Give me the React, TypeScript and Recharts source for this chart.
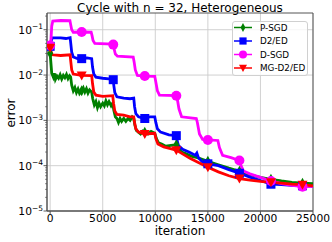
import React from 'react';
import { LineChart, Line, XAxis, YAxis, CartesianGrid, ReferenceArea, Label } from 'recharts';

// [iteration, error]
const pSgd: [number, number][] = [
    [0, 0.03], [60, 0.02], [150, 0.011], [300, 0.009], [400, 0.011], [500, 0.008], [650, 0.0095],
    [800, 0.0085], [950, 0.0102], [1100, 0.0082], [1250, 0.0098], [1400, 0.0087], [1550, 0.0103],
    [1700, 0.0083], [1850, 0.0096], [1950, 0.009], [2050, 0.006], [2200, 0.0045], [2350, 0.0053],
    [2500, 0.0041], [2650, 0.0049], [2800, 0.0039], [3000, 0.0045], [3150, 0.0052], [3300, 0.0042],
    [3450, 0.005], [3600, 0.004], [3750, 0.0047], [3950, 0.0042], [4050, 0.003], [4200, 0.0022],
    [4350, 0.0026], [4500, 0.0019], [4650, 0.0024], [4800, 0.002], [5000, 0.0024], [5150, 0.0021],
    [5300, 0.0027], [5450, 0.0022], [5600, 0.0026], [5800, 0.0021], [5950, 0.0024], [6050, 0.0017],
    [6200, 0.0012], [6350, 0.0011], [6500, 0.0009], [6650, 0.0011], [6800, 0.00095], [7000, 0.0011],
    [7200, 0.00095], [7400, 0.0011], [7600, 0.001], [7800, 0.0012], [7950, 0.0011], [8050, 0.0008],
    [8200, 0.0006], [8400, 0.00055], [8600, 0.0005], [8800, 0.00058], [9000, 0.00055], [9300, 0.0005],
    [9600, 0.00057], [9950, 0.00052], [10100, 0.0004], [10300, 0.00032], [10600, 0.0003],
    [11000, 0.00027], [11500, 0.00028], [12000, 0.00029], [12200, 0.00024], [12500, 0.0002],
    [13000, 0.00018], [13500, 0.00016], [14000, 0.00015], [15000, 0.000125], [16000, 0.000105],
    [17000, 0.000088], [18000, 0.000075], [19000, 0.000063], [20000, 0.000055], [21000, 0.00005],
    [22000, 0.000046], [23000, 0.000043], [24000, 0.000041], [25000, 0.00004],
];

const d2Ed: [number, number][] = [
    [0, 0.043], [80, 0.055], [200, 0.066], [1000, 0.066], [1500, 0.064], [1900, 0.067],
    [1960, 0.05], [2050, 0.032], [2200, 0.025], [2600, 0.023], [3000, 0.023], [3500, 0.024],
    [3950, 0.023], [4030, 0.015], [4150, 0.0105], [4350, 0.009], [5000, 0.0085], [5600, 0.0082],
    [6000, 0.0079], [6050, 0.006], [6150, 0.0041], [6350, 0.0033], [7000, 0.0031], [7600, 0.003],
    [7950, 0.0031], [8030, 0.002], [8150, 0.0014], [8400, 0.0012], [9000, 0.0011], [9500, 0.0012],
    [9950, 0.0012], [10050, 0.0009], [10200, 0.00065], [10500, 0.00055], [11300, 0.00048],
    [12000, 0.00046], [12050, 0.00038], [12200, 0.00028], [12600, 0.00023], [13200, 0.0002],
    [13800, 0.00017], [13950, 0.00019], [14100, 0.00015], [14500, 0.00012], [15000, 0.00011],
    [16000, 0.0001], [17000, 0.000082], [18000, 0.000068], [19000, 0.000056], [20000, 0.000047],
    [21000, 0.000039], [22000, 0.000038], [23000, 0.000037], [24000, 0.000036], [25000, 0.000035],
];

const dSgd: [number, number][] = [
    [0, 0.045], [80, 0.06], [150, 0.12], [250, 0.155], [1000, 0.16], [1880, 0.158], [1950, 0.13],
    [2050, 0.1], [2200, 0.088], [3000, 0.089], [3900, 0.088], [3980, 0.075], [4080, 0.058],
    [4250, 0.05], [5950, 0.048], [6000, 0.047], [6080, 0.038], [6200, 0.029], [6400, 0.026],
    [7900, 0.025], [7980, 0.02], [8100, 0.013], [8300, 0.0098], [9000, 0.0095], [9950, 0.0094],
    [10050, 0.007], [10200, 0.0045], [10400, 0.0036], [12000, 0.0035], [12100, 0.0029],
    [12250, 0.0018], [12500, 0.0012], [13900, 0.0011], [14000, 0.0009], [14200, 0.0005],
    [14500, 0.00038], [15000, 0.00037], [15950, 0.00036], [16100, 0.00025], [16400, 0.00017],
    [17200, 0.00015], [18000, 0.00013], [18150, 0.0001], [18400, 0.000076], [19000, 0.000066],
    [20000, 0.000055], [21000, 0.000046], [22000, 0.00004], [23000, 0.000037], [24000, 0.0000345],
    [25000, 0.000035],
];

const mgD2Ed: [number, number][] = [
    [0, 0.04], [80, 0.033], [200, 0.028], [1000, 0.027], [1900, 0.028], [1960, 0.02], [2050, 0.013],
    [2200, 0.0105], [3000, 0.0098], [3950, 0.0097], [4030, 0.0065], [4150, 0.0042], [4350, 0.0036],
    [5000, 0.0034], [5950, 0.0035], [6030, 0.0024], [6150, 0.0016], [6350, 0.00135], [7000, 0.0013],
    [7600, 0.0012], [7950, 0.0012], [8030, 0.0009], [8150, 0.00065], [8400, 0.00055], [9000, 0.0005],
    [9950, 0.00052], [10050, 0.0004], [10250, 0.0003], [10800, 0.00026], [12000, 0.00022],
    [13300, 0.000145], [14000, 0.00012], [15000, 0.000092], [16000, 0.000073], [17000, 0.00006],
    [18000, 0.000052], [19000, 0.000048], [20000, 0.000045], [21000, 0.000043], [22000, 0.000041],
    [23000, 0.000039], [24000, 0.000038], [25000, 0.000036],
];

const markerIters = [0, 3000, 6000, 9000, 12000, 15000, 18000, 21000, 24000];
const iterTicks = [0, 5000, 10000, 15000, 20000, 25000];
const errorTicks = [1e-5, 1e-4, 1e-3, 1e-2, 1e-1];
const minorTicks = [-5, -4, -3, -2, -1].flatMap(e => [2, 3, 4, 5, 6, 7, 8, 9].map(m => m * Math.pow(10, e))).filter(v => v < 0.234);

const series = [
    { name: 'P-SGD', data: pSgd, color: '#008000', marker: 'diamond' },
    { name: 'D2/ED', data: d2Ed, color: '#0000ff', marker: 'square' },
    { name: 'D-SGD', data: dSgd, color: '#ff00ff', marker: 'circle' },
    { name: 'MG-D2/ED', data: mgD2Ed, color: '#ff0000', marker: 'triangle' },
];

const FONT = '"DejaVu Sans", sans-serif';

const Marker = ({ kind, cx, cy, color, s = 1 }: { kind: string; cx: number; cy: number; color: string; s?: number }) => {
    if (kind === 'diamond') {
        return <polygon points={`${cx},${cy - 5.5 * s} ${cx + 3 * s},${cy} ${cx},${cy + 5.5 * s} ${cx - 3 * s},${cy}`} fill={color} />;
    }
    if (kind === 'square') {
        return <rect x={cx - 4.5 * s} y={cy - 4.5 * s} width={9 * s} height={9 * s} fill={color} />;
    }
    if (kind === 'circle') {
        return <circle cx={cx} cy={cy} r={5 * s} fill={color} />;
    }
    return <polygon points={`${cx - 5 * s},${cy - 4 * s} ${cx + 5 * s},${cy - 4 * s} ${cx},${cy + 5 * s}`} fill={color} />;
};

const YTick = (props: any) => {
    const { x, y, payload } = props;
    const v = payload.value;
    const exp = Math.round(Math.log10(v));
    const major = Math.abs(Math.log10(v) - exp) < 1e-6;
    if (!major) {
        return <line x1={x - 2} x2={x} y1={y} y2={y} stroke="#444" strokeWidth={0.6} />;
    }
    return (
        <g>
            <line x1={x - 3.5} x2={x} y1={y} y2={y} stroke="#333" strokeWidth={0.8} />
            <text x={x - 4} y={y + 4} textAnchor="end" fontSize={10.7} fontFamily={FONT} fill="#000">
                10<tspan dy={-4.5} fontSize={7.5}>{'\u2212' + Math.abs(exp)}</tspan>
            </text>
        </g>
    );
};

const App: React.FC = () => {
    return (
        <div style={{ position: 'absolute', left: 0, top: 0, width: 332, height: 242, background: '#fff' }}>
            <LineChart width={332} height={242} margin={{ top: 13, right: 19, bottom: 0, left: 0 }}>
                <CartesianGrid stroke="#cccccc" strokeWidth={0.9} horizontalValues={errorTicks} verticalValues={iterTicks} />
                <XAxis
                    type="number"
                    dataKey="x"
                    domain={[-300, 25000]}
                    allowDataOverflow
                    ticks={iterTicks}
                    height={31}
                    tickSize={3.5}
                    tickMargin={0}
                    stroke="#555"
                    tick={{ fontSize: 10.7, fontFamily: FONT, fill: '#000' }}
                >
                    <Label content={() => (
                        <text x={180} y={234.5} textAnchor="middle" fontSize={12} fontFamily={FONT} fill="#000">iteration</text>
                    )} />
                </XAxis>
                <YAxis
                    type="number"
                    scale="log"
                    domain={[1e-5, 0.234]}
                    allowDataOverflow
                    ticks={[...errorTicks, ...minorTicks]}
                    width={47}
                    tickSize={0}
                    tickMargin={0}
                    tickLine={false}
                    stroke="#555"
                    tick={<YTick />}
                    interval={0}
                >
                    <Label content={() => (
                        <g>
                            <text transform="translate(15,113) rotate(-90)" textAnchor="middle" fontSize={12} fontFamily={FONT} fill="#000">error</text>
                            <text x={180} y={11.5} textAnchor="middle" fontSize={12} fontFamily={FONT} fill="#000">Cycle with n = 32, Heterogeneous</text>
                        </g>
                    )} />
                </YAxis>
                <ReferenceArea x1={-300} x2={25000} y1={1e-5} y2={0.234} fill="none" stroke="#555" strokeWidth={1} ifOverflow="visible" />
                {series.map(s => (
                    <Line
                        key={s.name}
                        data={s.data.map(([x, y]) => ({ x, y }))}
                        dataKey="y"
                        type="linear"
                        stroke={s.color}
                        strokeWidth={2.8}
                        isAnimationActive={false}
                        activeDot={false}
                        dot={(p: any) => markerIters.includes(p.payload.x)
                            ? <Marker key={p.index} kind={s.marker} cx={p.cx} cy={p.cy} color={s.color} />
                            : <g key={p.index} />}
                    />
                ))}
            </LineChart>
            <div style={{
                position: 'absolute', left: 232, top: 21, width: 76, height: 55, boxSizing: 'border-box',
                border: '1px solid #d0d0d0', borderRadius: 3, background: 'rgba(255,255,255,0.8)',
            }}>
                <svg width={76} height={55} style={{ position: 'absolute', left: -1, top: -1 }}>
                    {series.map((s, i) => (
                        <g key={s.name}>
                            <line x1={2} x2={20} y1={6.5 + i * 13.5} y2={6.5 + i * 13.5} stroke={s.color} strokeWidth={1.5} />
                            <Marker kind={s.marker} cx={11} cy={6.5 + i * 13.5} color={s.color} s={0.8} />
                            <text x={28} y={9.7 + i * 13.5} fontSize={8.8} fontFamily={FONT} fill="#000">{s.name}</text>
                        </g>
                    ))}
                </svg>
            </div>
        </div>
    );
};

export default App;
